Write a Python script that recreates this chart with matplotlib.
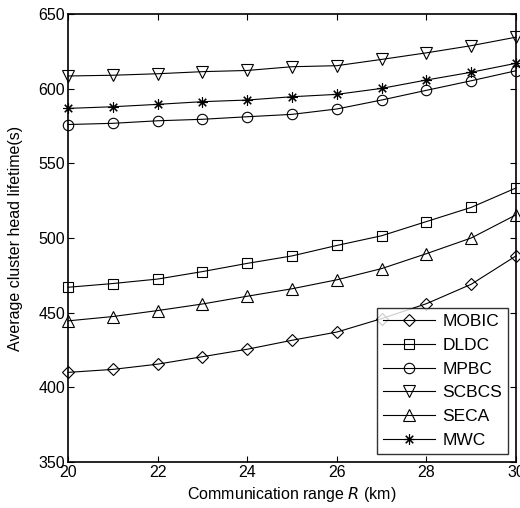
import matplotlib
matplotlib.use("Agg")
import matplotlib.pyplot as plt

plt.rcParams['font.family'] = ['Liberation Sans', 'DejaVu Sans']

R = [20, 21, 22, 23, 24, 25, 26, 27, 28, 29, 30]
mobic = [410, 412, 415.5, 420.5, 425.5, 431.5, 437, 446, 456, 469, 488]
dldc = [467, 469.5, 472.5, 477.5, 483, 488, 495, 501.5, 511, 520.5, 533.5]
mpbc = [576, 576.8, 578.5, 579.5, 581.2, 582.8, 586.4, 592.4, 598.9, 605.3, 612]
scbcs = [608.5, 609, 610, 611.4, 612.2, 614.7, 615.4, 619.6, 624, 628.8, 634.5]
seca = [444.5, 447.4, 451.4, 455.8, 461, 466, 472, 479.5, 489.5, 500, 515.5]
mwc = [586.8, 587.9, 589.5, 591.3, 592.4, 594.6, 596.2, 600.2, 605.8, 611, 617]

series = [("MOBIC", mobic, "D", 6.5), ("DLDC", dldc, "s", 7), ("MPBC", mpbc, "o", 7.5),
          ("SCBCS", scbcs, "v", 8.5), ("SECA", seca, "^", 8.5), ("MWC", mwc, (8, 2, 0), 7.5)]

xticks = [20, 22, 24, 26, 28, 30]
yticks = [350, 400, 450, 500, 550, 600, 650]

fig = plt.figure(figsize=(5.2, 5.08), dpi=100)
ax = fig.add_axes([0.1308, 0.0906, 0.8615, 0.8818])
for name, vals, m, ms in series:
    ax.plot(R, vals, color='black', lw=0.8, marker=m, ms=ms, mfc='none', mec='black',
            mew=0.8, label=name, clip_on=False)

ax.set_xlim(20, 30)
ax.set_ylim(350, 650)
ax.set_xticks(xticks)
ax.set_yticks(yticks)
ax.tick_params(direction='in', top=True, right=True, labelsize=11.5, length=4, width=0.8, pad=2)
for s in ax.spines.values():
    s.set_linewidth(1.2)
ax.set_xlabel("Communication range $\\it{R}$ (km)", fontsize=11.5, labelpad=4)
ax.set_ylabel("Average cluster head lifetime(s)", fontsize=11.5, labelpad=11)
leg = ax.legend(loc='lower right', fontsize=12.5, frameon=True, fancybox=False, edgecolor='black',
                handlelength=3.0, borderaxespad=0.45, labelspacing=0.5, borderpad=0.35,
                handletextpad=0.4)
leg.get_frame().set_linewidth(1.0)
fig.savefig("out.png", dpi=100)
